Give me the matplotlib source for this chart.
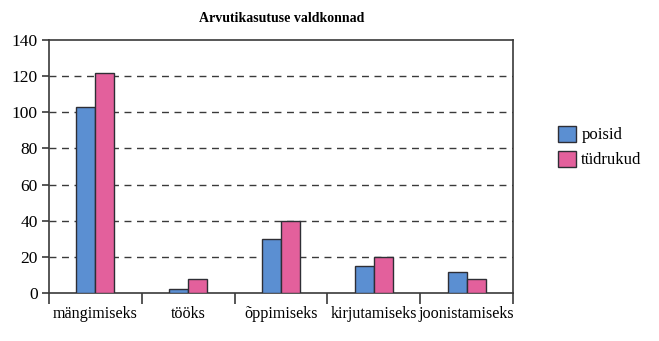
import matplotlib
matplotlib.use("Agg")
import matplotlib.pyplot as plt
import numpy as np

categories = ["mängimiseks", "tööks", "õppimiseks", "kirjutamiseks", "joonistamiseks"]
poisid = [103, 2, 30, 15, 11.5]
tudrukud = [122, 7.5, 40, 20, 7.5]
series_names = ["poisid", "tüdrukud"]
yticks = [0, 20, 40, 60, 80, 100, 120, 140]

plt.rcParams["font.family"] = ["Liberation Serif", "DejaVu Serif"]

fig = plt.figure(figsize=(6.59, 3.41), dpi=100)
ax = fig.add_axes([49 / 659, 1 - 293 / 341, 464 / 659, 253 / 341])

x = np.arange(len(categories))
w = 0.205
ax.bar(x - w / 2, poisid, width=w, color="#5b8fd2", edgecolor="#2e2e35",
       linewidth=1.0, label=series_names[0], zorder=3)
ax.bar(x + w / 2, tudrukud, width=w, color="#e3609c", edgecolor="#2e2e35",
       linewidth=1.0, label=series_names[1], zorder=3)

ax.set_xlim(-0.5, len(categories) - 0.5)
ax.set_ylim(0, 140)
ax.set_yticks(yticks)
ax.set_yticklabels([str(v) for v in yticks], fontsize=12.5)
ax.set_xticks(x)
ax.set_xticklabels(categories, fontsize=11.6)
ax.tick_params(axis="x", length=0, pad=9)
ax.set_xticks(np.arange(len(categories) + 1) - 0.5, minor=True)
ax.tick_params(axis="x", which="minor", length=8, width=1.2, color="#3a3a3a")
ax.tick_params(axis="y", length=5, width=1.2, color="#3a3a3a", pad=3)

for v in yticks[1:-1]:
    ax.axhline(v, color="#3a3a3a", linestyle=(0, (5, 4)), linewidth=1.0, zorder=1)

for s in ax.spines.values():
    s.set_color("#3a3a3a")
    s.set_linewidth(1.2)

fig.text(282 / 659, 1 - 18 / 341, "Arvutikasutuse valdkonnad", ha="center",
         va="center", fontsize=10, fontweight="bold")

ax.legend(loc="center left", bbox_to_anchor=(543 / 659, 1 - 147 / 341),
          bbox_transform=fig.transFigure, frameon=False, fontsize=12,
          handlelength=1.1, handleheight=1.1, handletextpad=0.3,
          labelspacing=0.45)

fig.savefig("out.png", dpi=100)
